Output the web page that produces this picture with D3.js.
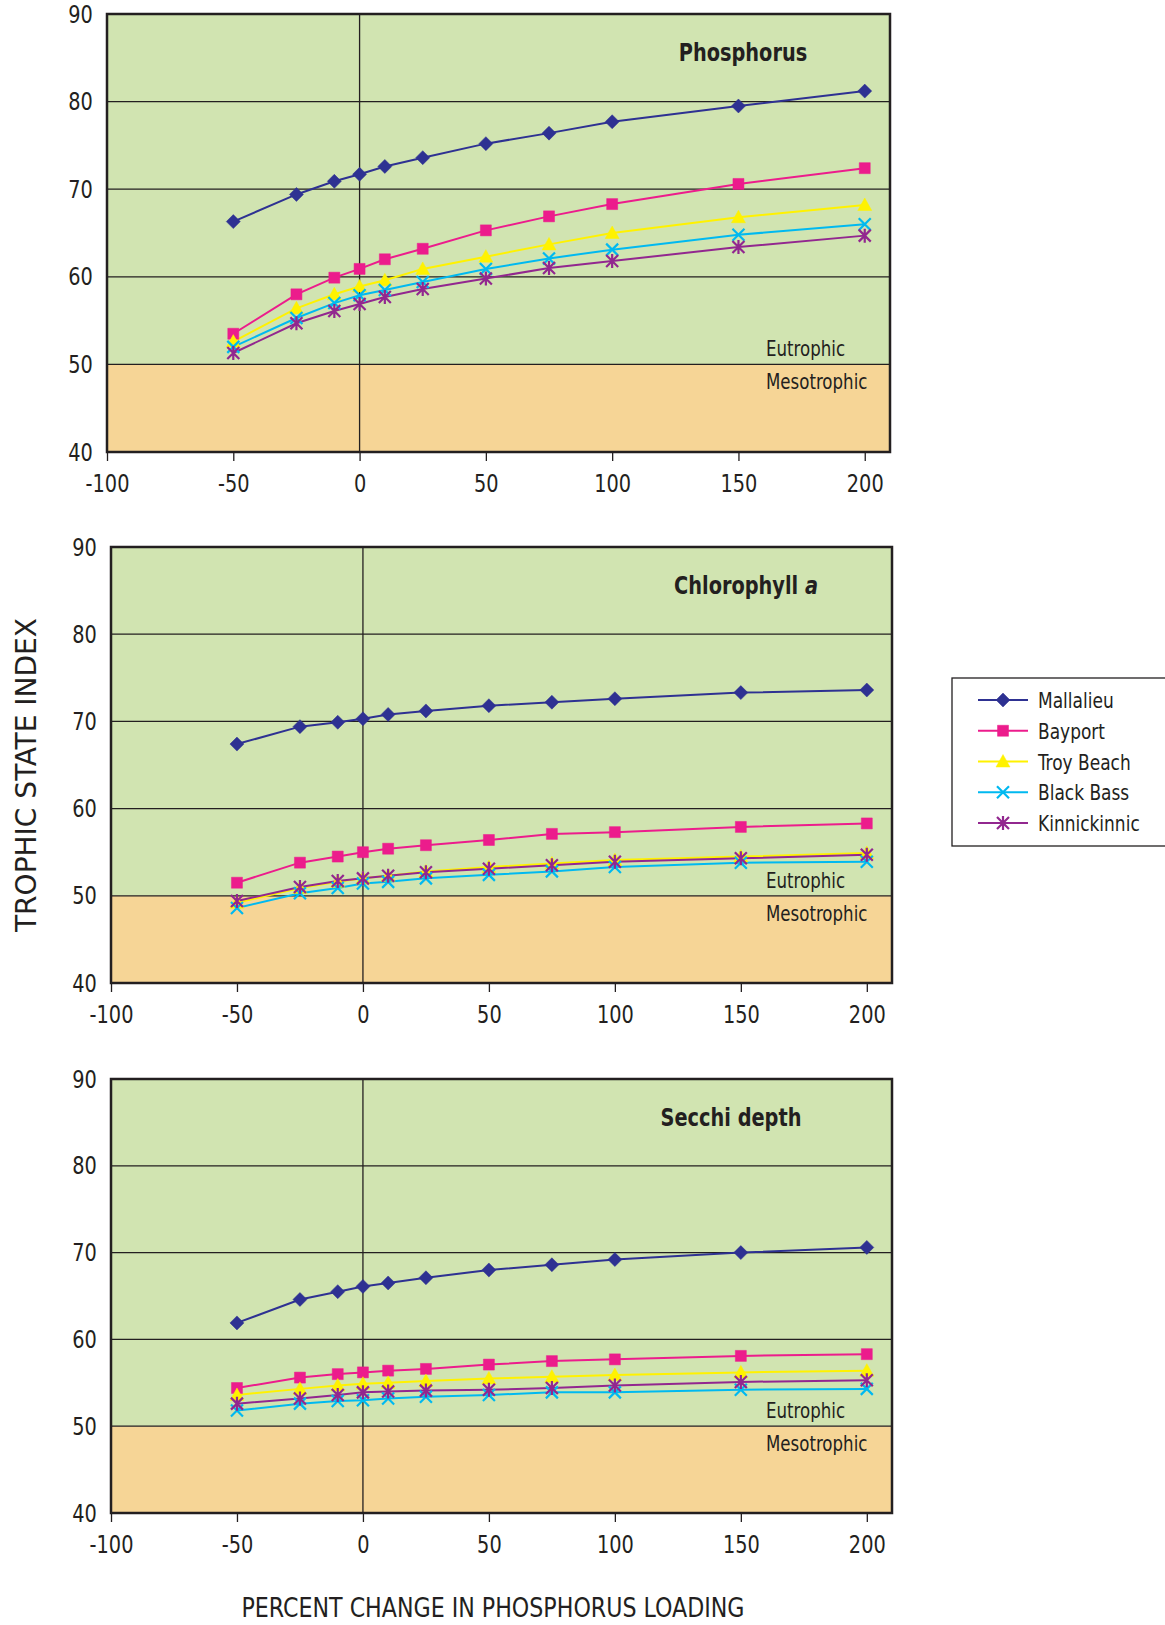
<!DOCTYPE html>
<meta charset="utf-8">
<script src="https://d3js.org/d3.v7.min.js"></script>
<style>
  body { margin: 0; background: #fff; }
  text { font-family: "DejaVu Sans Condensed", "DejaVu Sans", sans-serif; fill: #231f20; }
</style>
<div id="chart"></div>
<script>

    // percent change in phosphorus loading (x values shared by all panels)
    var xValues = [-50, -25, -10, 0, 10, 25, 50, 75, 100, 150, 200];
    var xTicks = [-100, -50, 0, 50, 100, 150, 200];
    var yTicks = [40, 50, 60, 70, 80, 90];

    var lakes = ["Mallalieu", "Bayport", "Troy Beach", "Black Bass", "Kinnickinnic"];
    var lakeColors = ["#2e3192", "#ec1c8c", "#fff200", "#00b9f0", "#92278f"];
    var lakeMarkers = ["diamond", "square", "triangle", "x", "star"];

    var panelTitles = ["Phosphorus", "Chlorophyll", "Secchi depth"];

    // trophic state index, one row per lake (same order as lakes)
    var phosphorusTSI = [
        [66.3, 69.4, 70.9, 71.7, 72.6, 73.6, 75.2, 76.4, 77.7, 79.5, 81.2],
        [53.5, 58.0, 59.9, 60.9, 62.0, 63.2, 65.3, 66.9, 68.3, 70.6, 72.4],
        [52.6, 56.4, 58.0, 58.9, 59.6, 60.9, 62.3, 63.7, 65.0, 66.8, 68.2],
        [52.0, 55.3, 57.0, 57.9, 58.5, 59.4, 60.9, 62.1, 63.1, 64.8, 66.0],
        [51.3, 54.7, 56.1, 56.9, 57.7, 58.6, 59.8, 61.0, 61.8, 63.4, 64.7]
    ];
    var chlorophyllTSI = [
        [67.4, 69.4, 69.9, 70.3, 70.8, 71.2, 71.8, 72.2, 72.6, 73.3, 73.6],
        [51.5, 53.8, 54.5, 55.0, 55.4, 55.8, 56.4, 57.1, 57.3, 57.9, 58.3],
        [49.2, 50.9, 51.6, 52.0, 52.3, 52.8, 53.3, 53.7, 54.1, 54.5, 54.9],
        [48.6, 50.3, 50.9, 51.4, 51.6, 52.0, 52.4, 52.8, 53.3, 53.8, 53.9],
        [49.4, 51.0, 51.7, 52.0, 52.3, 52.7, 53.1, 53.5, 53.9, 54.3, 54.7]
    ];
    var secchiTSI = [
        [61.9, 64.6, 65.5, 66.1, 66.5, 67.1, 68.0, 68.6, 69.2, 70.0, 70.6],
        [54.4, 55.6, 56.0, 56.2, 56.4, 56.6, 57.1, 57.5, 57.7, 58.1, 58.3],
        [53.6, 54.3, 54.7, 54.9, 55.0, 55.2, 55.5, 55.7, 55.9, 56.2, 56.4],
        [51.8, 52.6, 52.9, 53.0, 53.2, 53.4, 53.6, 53.9, 53.9, 54.2, 54.3],
        [52.6, 53.2, 53.6, 53.9, 54.0, 54.1, 54.2, 54.4, 54.7, 55.1, 55.3]
    ];
    var panelData = [phosphorusTSI, chlorophyllTSI, secchiTSI];

    // panel boxes in page pixels
    var panels = [
        { left: 107, right: 890, top: 14, bottom: 452, titleX: 743 },
        { left: 111, right: 892, top: 547, bottom: 983, titleX: 746 },
        { left: 111, right: 892, top: 1079, bottom: 1513, titleX: 731 }
    ];

    var SX = 0.86; // squeeze text horizontally (condensed look)

    var svg = d3.select("#chart")
        .append("svg")
        .attr("width", 1165)
        .attr("height", 1625);

    function label(parent, x, y, str, size, anchor, bold) {
        var t = parent.append("g")
            .attr("transform", "translate(" + x + "," + y + ")")
            .append("text")
            .attr("transform", "scale(" + SX + ",1)")
            .attr("text-anchor", anchor || "start")
            .style("font-size", size + "px")
            .style("font-weight", bold ? "bold" : "normal")
            .text(str);
        return t;
    }

    // marker shapes
    function markerPath(type) {
        var p = d3.path();
        if (type == "diamond") {
            p.moveTo(0, -7); p.lineTo(7, 0); p.lineTo(0, 7); p.lineTo(-7, 0); p.closePath();
        } else if (type == "square") {
            p.rect(-5.5, -5.5, 11, 11);
        } else if (type == "triangle") {
            p.moveTo(0, -7); p.lineTo(7, 5.5); p.lineTo(-7, 5.5); p.closePath();
        } else if (type == "x") {
            p.moveTo(-6, -6); p.lineTo(6, 6); p.moveTo(-6, 6); p.lineTo(6, -6);
        } else {
            p.moveTo(-6, -6); p.lineTo(6, 6); p.moveTo(-6, 6); p.lineTo(6, -6);
            p.moveTo(0, -7); p.lineTo(0, 7);
        }
        return p.toString();
    }
    function isStroke(type) { return type == "x" || type == "star"; }

    function drawMarker(g, type, color, cx, cy) {
        g.append("path")
            .attr("d", markerPath(type))
            .attr("transform", "translate(" + cx + "," + cy + ")")
            .attr("fill", isStroke(type) ? "none" : color)
            .attr("stroke", color)
            .attr("stroke-width", isStroke(type) ? 2.2 : 0.5);
    }

    panels.forEach(function (pn, pi) {
        var x = d3.scaleLinear().domain([-100, 210]).range([pn.left, pn.right]);
        var y = d3.scaleLinear().domain([40, 90]).range([pn.bottom, pn.top]);
        var g = svg.append("g");

        // trophic zones
        g.append("rect")
            .attr("x", pn.left).attr("y", y(90))
            .attr("width", pn.right - pn.left).attr("height", y(50) - y(90))
            .attr("fill", "#d1e4b1");
        g.append("rect")
            .attr("x", pn.left).attr("y", y(50))
            .attr("width", pn.right - pn.left).attr("height", y(40) - y(50))
            .attr("fill", "#f6d596");

        // gridlines
        g.selectAll(".grid")
            .data([50, 60, 70, 80])
            .enter()
            .append("line")
            .attr("x1", pn.left).attr("x2", pn.right)
            .attr("y1", function (d) { return y(d); })
            .attr("y2", function (d) { return y(d); })
            .attr("stroke", "#231f20")
            .attr("stroke-width", 1.3);
        g.append("line")
            .attr("x1", x(0)).attr("x2", x(0))
            .attr("y1", pn.top).attr("y2", pn.bottom)
            .attr("stroke", "#231f20")
            .attr("stroke-width", 1.3);

        // axes
        var xa = g.append("g")
            .attr("transform", "translate(0," + pn.bottom + ")")
            .call(d3.axisBottom(x).tickValues(xTicks).tickSize(9).tickSizeOuter(0).tickPadding(13)
                .tickFormat(function (d) { return String(d); }));
        xa.select(".domain").remove();
        xa.selectAll("line").attr("stroke", "#231f20").attr("stroke-width", 1.3);
        xa.selectAll("text")
            .style("font-size", "25px")
            .attr("fill", "#231f20")
            .attr("transform", "scale(" + SX + ",1)");
        xa.attr("font-family", null);

        var ya = g.append("g")
            .attr("transform", "translate(" + pn.left + ",0)")
            .call(d3.axisLeft(y).tickValues(yTicks).tickSize(0).tickPadding(16.5));
        ya.select(".domain").remove();
        ya.selectAll("text")
            .style("font-size", "25px")
            .attr("fill", "#231f20")
            .attr("transform", "scale(" + SX + ",1)");
        ya.attr("font-family", null);

        // frame
        g.append("rect")
            .attr("x", pn.left).attr("y", pn.top)
            .attr("width", pn.right - pn.left).attr("height", pn.bottom - pn.top)
            .attr("fill", "none")
            .attr("stroke", "#231f20")
            .attr("stroke-width", 2.5);

        // zone labels
        label(g, 766, y(50) - 8, "Eutrophic", 21.5);
        label(g, 766, y(50) + 25, "Mesotrophic", 21.5);

        // panel title
        var t = label(g, pn.titleX, pn.top + 47, panelTitles[pi], 25, "middle", true);
        if (pi == 1) {
            t.append("tspan").text(" a").style("font-style", "italic");
        }

        // series lines + markers
        var line = d3.line()
            .x(function (d, i) { return x(xValues[i]); })
            .y(function (d) { return y(d); });
        panelData[pi].forEach(function (vals, si) {
            g.append("path")
                .datum(vals)
                .attr("d", line)
                .attr("fill", "none")
                .attr("stroke", lakeColors[si])
                .attr("stroke-width", 2);
        });
        panelData[pi].forEach(function (vals, si) {
            vals.forEach(function (v, i) {
                drawMarker(g, lakeMarkers[si], lakeColors[si], x(xValues[i]), y(v));
            });
        });
    });

    // legend
    var lg = svg.append("g");
    lg.append("rect")
        .attr("x", 952).attr("y", 678)
        .attr("width", 240).attr("height", 168)
        .attr("fill", "#fff")
        .attr("stroke", "#231f20")
        .attr("stroke-width", 1.3);
    var legendY = d3.scalePoint().domain(lakes).range([700, 823]);
    lakes.forEach(function (name, i) {
        var ly = legendY(name);
        lg.append("line")
            .attr("x1", 978).attr("x2", 1028)
            .attr("y1", ly).attr("y2", ly)
            .attr("stroke", lakeColors[i])
            .attr("stroke-width", 2);
        drawMarker(lg, lakeMarkers[i], lakeColors[i], 1003, ly);
        label(lg, 1038, ly + 8, name, 22);
    });

    // axis titles
    svg.append("text")
        .attr("transform", "translate(36,775)rotate(-90)")
        .attr("text-anchor", "middle")
        .style("font-size", "29px")
        .attr("textLength", 314)
        .attr("lengthAdjust", "spacingAndGlyphs")
        .text("TROPHIC STATE INDEX");
    svg.append("text")
        .attr("x", 493).attr("y", 1617)
        .attr("text-anchor", "middle")
        .style("font-size", "26px")
        .attr("textLength", 503)
        .attr("lengthAdjust", "spacingAndGlyphs")
        .text("PERCENT CHANGE IN PHOSPHORUS LOADING");

</script>
